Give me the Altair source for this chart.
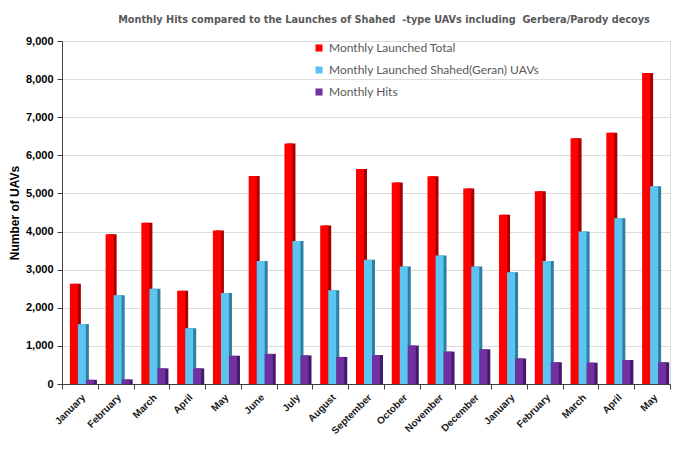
import json
import altair as alt
import pandas as pd

months = ["January", "February", "March", "April", "May", "June", "July",
          "August", "September", "October", "November", "December",
          "January", "February", "March", "April", "May"]
total = [2630, 3930, 4230, 2450, 4030, 5460, 6310, 4160, 5640, 5290, 5450,
         5130, 4440, 5060, 6450, 6590, 8160]
shahed = [1570, 2330, 2500, 1460, 2390, 3230, 3750, 2460, 3260, 3080, 3370,
          3080, 2930, 3230, 4000, 4350, 5190]
hits = [110, 120, 410, 410, 740, 790, 750, 710, 760, 1010, 850, 910, 670,
        570, 560, 630, 570]

series = ["Monthly Launched Total", "Monthly Launched Shahed(Geran) UAVs",
          "Monthly Hits"]
face_colors = ["#FF0000", "#5BC4F0", "#7030A0"]
side_colors = ["#A80000", "#2F7FA0", "#44186A"]

rows = []
for i, m in enumerate(months):
    for s, vals in zip(series, [total, shahed, hits]):
        rows.append({"idx": i, "month": m, "series": s, "value": vals[i]})
df = pd.DataFrame(rows)

label_expr = json.dumps(months) + "[datum.value]"
W, H = 608, 343
step = W / len(months)

x_enc = alt.X(
    "idx:O",
    title=None,
    scale=alt.Scale(paddingInner=0, paddingOuter=0),
    axis=alt.Axis(
        labelExpr=label_expr, labelAngle=-45, tickBand="extent",
        labelFont="Liberation Sans", labelFontSize=10, labelFontWeight="bold",
        labelColor="#1a1a1a", domainColor="#404040", tickColor="#404040",
        tickSize=5, labelPadding=3, grid=False,
    ),
)
y_enc = alt.Y(
    "value:Q",
    title="Number of UAVs",
    scale=alt.Scale(domain=[0, 9000]),
    axis=alt.Axis(
        values=list(range(0, 9001, 1000)), format=",.0f",
        labelFont="Liberation Sans", labelFontSize=11, labelFontWeight="bold",
        labelColor="#000000", titleFont="Liberation Sans", titleFontSize=12,
        titleFontWeight="bold", titleColor="#000000", titlePadding=4,
        domainColor="#404040", tickColor="#404040", tickSize=5,
        gridColor="#DCDCDC", labelPadding=4,
    ),
)

sides = alt.Chart(df).mark_bar().encode(
    x=x_enc,
    y=y_enc,
    xOffset=alt.XOffset("series:N", sort=series,
                        scale=alt.Scale(domain=series, range=[5, step + 5],
                                        paddingInner=0, paddingOuter=0.73)),
    color=alt.Color("series:N", sort=series,
                    scale=alt.Scale(domain=series, range=side_colors),
                    legend=None),
)

faces = alt.Chart(df).mark_bar().encode(
    x=x_enc,
    y=y_enc,
    xOffset=alt.XOffset("series:N", sort=series,
                        scale=alt.Scale(domain=series, range=[2, step + 2],
                                        paddingInner=0, paddingOuter=0.73)),
    fill=alt.Fill("series:N", sort=series,
                  scale=alt.Scale(domain=series, range=face_colors),
                  legend=alt.Legend(
                      title=None, orient="none", legendX=251, legendY=1,
                      symbolType="square", symbolSize=50, symbolStrokeWidth=0,
                      labelFont="Lato", labelFontSize=12, labelColor="#595959",
                      rowPadding=10, labelOffset=4, labelLimit=0,
                  )),
)

chart = alt.layer(sides, faces).resolve_scale(
    xOffset="independent", color="independent"
).properties(
    width=W,
    height=H,
    autosize=alt.AutoSizeParams(type="none"),
    padding={"left": 54, "top": 33, "right": 17, "bottom": 59},
    title=alt.TitleParams(
        "Monthly Hits compared to the Launches of Shahed\u00a0\u00a0-type UAVs including\u00a0\u00a0Gerbera/Parody decoys",
        font="Liberation Sans Narrow, DejaVu Sans Condensed, sans-serif",
        fontSize=10.8, fontWeight="bold", color="#595959",
        anchor="middle", dx=18, offset=10,
    ),
).configure_view(stroke=None).configure(background="white")

chart.save("out.html", embed_options={"renderer": "svg", "actions": False})
